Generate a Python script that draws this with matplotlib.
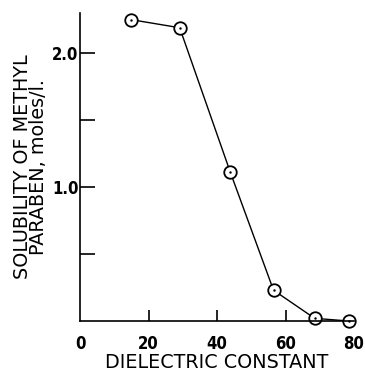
import numpy as np
import matplotlib
matplotlib.use('Agg')
import matplotlib.pyplot as plt

# solubility of methyl paraben vs dielectric constant
diel = [15.0, 29.1, 43.9, 56.5, 68.5, 78.4]
solub = [2.25, 2.19, 1.11, 0.23, 0.02, 0.0]

xticks = [0, 20, 40, 60, 80]
xlabels = ['0', '20', '40', '60', '80']
yticks = [0.5, 1.0, 1.5, 2.0]
ylabels = ['', '1.0', '', '2.0']

tickfont = dict(family=['DejaVu Sans'], stretch='condensed', weight='bold', size=12)
labfont = dict(family=['DejaVu Sans'], size=13.8)

fig = plt.figure(figsize=(3.65, 3.71), dpi=100)
ax = fig.add_axes([80/365, 1-321/371, 274/365, 308/371])

ax.plot(diel, solub, '-', color='black', lw=1.0, zorder=1)
ax.plot(diel, solub, 'o', ms=9, mfc='white', mec='black', mew=1.3, zorder=2, clip_on=False)
ax.plot(diel, solub, '.', ms=1.5, color='black', zorder=3, clip_on=False)

ax.set_xlim(0, 80)
ax.set_ylim(0, 2.3)
for s in ['top', 'right']:
    ax.spines[s].set_visible(False)
ax.spines['left'].set_linewidth(1.2)
ax.spines['bottom'].set_linewidth(1.2)

ax.set_xticks(xticks)
ax.set_xticklabels(xlabels, fontdict=tickfont)
ax.set_yticks(yticks)
ax.set_yticklabels(ylabels, fontdict=tickfont)
ax.tick_params(axis='x', direction='in', length=8, width=1.2, pad=10)
ax.tick_params(axis='y', direction='in', length=11, width=1.2, pad=1)
ticks = ax.xaxis.get_major_ticks()
ticks[0].tick1line.set_visible(False)
ticks[-1].tick1line.set_visible(False)

ax.set_xlabel('DIELECTRIC CONSTANT', fontdict=labfont, labelpad=0)
ax.set_ylabel('SOLUBILITY OF METHYL\nPARABEN, moles/l.', fontdict=labfont,
              linespacing=0.8, labelpad=3)

fig.savefig('out.png', dpi=100)
